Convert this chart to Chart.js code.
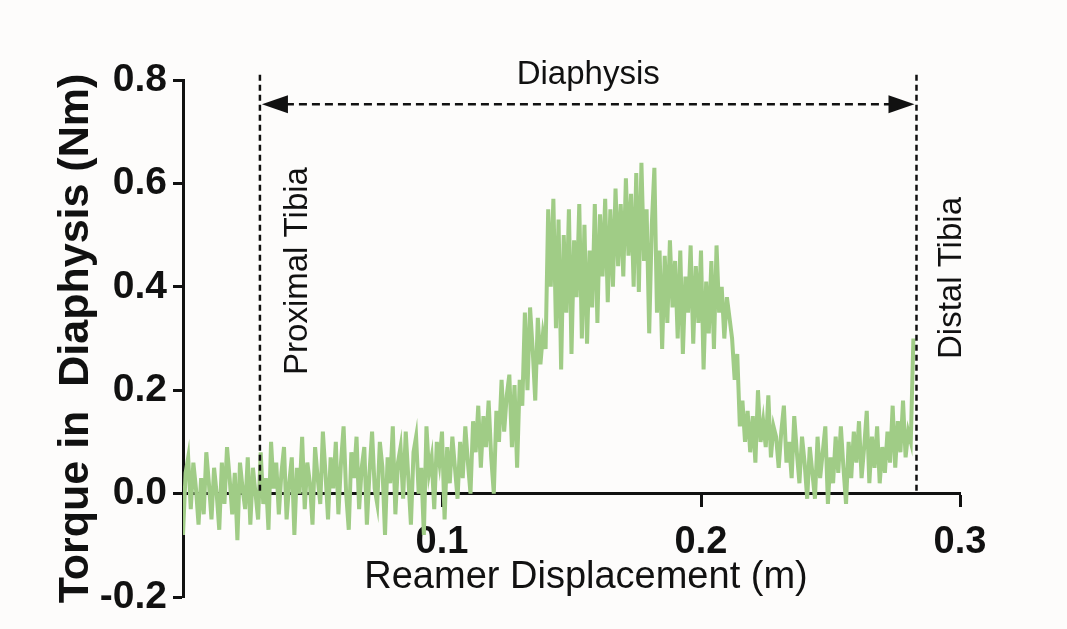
<!DOCTYPE html>
<html><head><meta charset="utf-8">
<script src="https://cdn.jsdelivr.net/npm/chart.js@4.4.1/dist/chart.umd.min.js"></script>
<style>html,body{margin:0;padding:0;background:#fdfcfb;} #wrap{width:1067px;height:629px;position:relative;}</style>
</head><body><div id="wrap"><canvas id="c"></canvas></div>
<script>
// Reamer displacement (m)
const displacement = [
0,0.001,0.002,0.003,0.004,0.005,0.006,0.007,0.008,0.009,
0.010,0.011,0.012,0.013,0.014,0.015,0.016,0.017,0.018,0.019,
0.020,0.021,0.022,0.023,0.024,0.025,0.026,0.027,0.028,0.029,
0.030,0.031,0.032,0.033,0.034,0.035,0.036,0.037,0.038,0.039,
0.040,0.041,0.042,0.043,0.044,0.045,0.046,0.047,0.048,0.049,
0.050,0.051,0.052,0.053,0.054,0.055,0.056,0.057,0.058,0.059,
0.060,0.061,0.062,0.063,0.064,0.065,0.066,0.067,0.068,0.069,
0.070,0.071,0.072,0.073,0.074,0.075,0.076,0.077,0.078,0.079,
0.080,0.081,0.082,0.083,0.084,0.085,0.086,0.087,0.088,0.089,
0.090,0.091,0.092,0.093,0.094,0.095,0.096,0.097,0.098,0.099,
0.100,0.101,0.102,0.103,0.104,0.105,0.106,0.107,0.108,0.109,
0.110,0.111,0.112,0.113,0.114,0.115,0.116,0.117,0.118,0.119,
0.120,0.121,0.122,0.123,0.124,0.125,0.126,0.127,0.128,0.129,
0.130,0.131,0.132,0.133,0.134,0.135,0.136,0.137,0.138,0.139,
0.140,0.141,0.142,0.143,0.144,0.145,0.146,0.147,0.148,0.149,
0.150,0.151,0.152,0.153,0.154,0.155,0.156,0.157,0.158,0.159,
0.160,0.161,0.162,0.163,0.164,0.165,0.166,0.167,0.168,0.169,
0.170,0.171,0.172,0.173,0.174,0.175,0.176,0.177,0.178,0.179,
0.180,0.181,0.182,0.183,0.184,0.185,0.186,0.187,0.188,0.189,
0.190,0.191,0.192,0.193,0.194,0.195,0.196,0.197,0.198,0.199,
0.200,0.201,0.202,0.203,0.204,0.205,0.206,0.207,0.208,0.209,
0.210,0.211,0.212,0.213,0.214,0.215,0.216,0.217,0.218,0.219,
0.220,0.221,0.222,0.223,0.224,0.225,0.226,0.227,0.228,0.229,
0.230,0.231,0.232,0.233,0.234,0.235,0.236,0.237,0.238,0.239,
0.240,0.241,0.242,0.243,0.244,0.245,0.246,0.247,0.248,0.249,
0.250,0.251,0.252,0.253,0.254,0.255,0.256,0.257,0.258,0.259,
0.260,0.261,0.262,0.263,0.264,0.265,0.266,0.267,0.268,0.269,
0.270,0.271,0.272,0.273,0.274,0.275,0.276,0.277,0.278,0.279,
0.280,0.281,0.282
];
// Torque in diaphysis (Nm)
const torque = [
-0.08,0.04,0.07,-0.03,0.06,0.01,-0.06,0.03,-0.04,0.08,
0.02,-0.05,0.05,0.00,-0.07,0.06,-0.02,0.09,0.03,-0.04,
0.04,-0.09,0.06,0.01,-0.03,0.07,-0.06,0.05,0.00,-0.05,
0.08,-0.02,0.03,-0.07,0.10,0.01,0.06,-0.04,0.04,0.09,
-0.05,0.02,0.07,-0.08,0.05,0.00,0.11,-0.03,0.06,0.02,
-0.06,0.09,0.03,-0.02,0.12,0.04,-0.05,0.07,0.01,0.10,
-0.04,0.06,0.13,0.00,-0.07,0.08,0.03,0.11,-0.03,0.05,
0.09,-0.06,0.04,0.12,0.01,-0.02,0.10,0.05,-0.08,0.07,
0.02,0.13,-0.04,0.06,0.09,-0.01,0.12,0.03,-0.06,0.08,
0.11,0.00,0.05,-0.08,0.13,0.04,0.07,-0.03,0.10,0.06,
0.12,-0.05,0.09,0.02,0.11,0.05,-0.01,0.10,0.03,0.13,
0.06,0.00,0.14,0.08,0.17,0.05,0.15,0.09,0.18,0.07,
0.00,0.16,0.10,0.22,0.12,0.19,0.23,0.09,0.21,0.05,
0.22,0.17,0.35,0.20,0.36,0.28,0.18,0.34,0.25,0.31,
0.28,0.55,0.40,0.57,0.32,0.53,0.24,0.50,0.35,0.55,
0.27,0.49,0.38,0.56,0.30,0.52,0.29,0.47,0.36,0.56,
0.33,0.54,0.42,0.57,0.37,0.55,0.40,0.59,0.44,0.56,
0.42,0.61,0.46,0.58,0.40,0.62,0.39,0.64,0.45,0.55,
0.31,0.52,0.63,0.35,0.47,0.28,0.46,0.33,0.49,0.36,
0.45,0.30,0.47,0.27,0.42,0.35,0.48,0.29,0.44,0.33,
0.47,0.24,0.41,0.31,0.45,0.28,0.48,0.35,0.40,0.30,
0.38,0.34,0.30,0.22,0.27,0.13,0.18,0.10,0.16,0.08,
0.15,0.06,0.20,0.10,0.14,0.09,0.19,0.07,0.13,0.11,
0.05,0.12,0.17,0.06,0.10,0.03,0.15,0.08,0.02,0.11,
0.06,-0.01,0.09,0.04,-0.01,0.11,0.03,0.08,0.13,-0.02,
0.07,0.02,0.11,0.04,0.13,0.05,-0.02,0.10,0.03,0.12,
0.06,0.14,0.03,0.09,0.16,0.02,0.11,0.05,0.13,0.02,
0.09,0.04,0.12,0.06,0.17,0.05,0.14,0.08,0.18,0.07,
0.12,0.10,0.30
];
const xTicks = [0, 0.1, 0.2, 0.3];
const yTicks = [-0.2, 0, 0.2, 0.4, 0.6, 0.8];
const boundaryX = [0.0297, 0.2832];          // proximal / distal tibia markers
const boundaryLabels = ['Proximal Tibia', 'Distal Tibia'];
const spanLabel = 'Diaphysis';
const markerTop = 0.81;
const arrowLevel = 0.753;
const xTitle = 'Reamer Displacement (m)';
const yTitle = 'Torque in  Diaphysis (Nm)';

const FONT = '"Liberation Sans", Arial, Helvetica, sans-serif';
Chart.defaults.font.family = FONT;
const INK = '#111111';

const annot = {
  id: 'annot',
  afterDatasetsDraw(chart) {
    const {ctx, scales: {x, y}} = chart;
    const xp = x.getPixelForValue(boundaryX[0]);
    const xd = x.getPixelForValue(boundaryX[1]);
    const yTop = y.getPixelForValue(markerTop);
    const y0 = y.getPixelForValue(0);
    const ya = y.getPixelForValue(arrowLevel);
    ctx.save();
    ctx.strokeStyle = INK; ctx.fillStyle = INK;
    ctx.lineWidth = 2.5; ctx.setLineDash([6, 4]);
    [xp, xd].forEach(px => { ctx.beginPath(); ctx.moveTo(px, yTop); ctx.lineTo(px, y0); ctx.stroke(); });
    const ah = 26, aw = 9;
    ctx.setLineDash([8, 5]);
    ctx.beginPath(); ctx.moveTo(xp + ah, ya); ctx.lineTo(xd - ah, ya); ctx.stroke();
    ctx.setLineDash([]);
    ctx.beginPath(); ctx.moveTo(xp + 2, ya); ctx.lineTo(xp + 2 + ah, ya - aw); ctx.lineTo(xp + 2 + ah, ya + aw); ctx.closePath(); ctx.fill();
    ctx.beginPath(); ctx.moveTo(xd - 2, ya); ctx.lineTo(xd - 2 - ah, ya - aw); ctx.lineTo(xd - 2 - ah, ya + aw); ctx.closePath(); ctx.fill();
    ctx.textAlign = 'center'; ctx.textBaseline = 'middle';
    ctx.font = '33px ' + FONT;
    ctx.fillText(spanLabel, (xp + xd) / 2, 75);
    ctx.save(); ctx.translate(xp + 38, 271); ctx.rotate(-Math.PI / 2); ctx.fillText(boundaryLabels[0], 0, 0); ctx.restore();
    ctx.save(); ctx.translate(xd + 35, 278); ctx.rotate(-Math.PI / 2); ctx.fillText(boundaryLabels[1], 0, 0); ctx.restore();
    ctx.font = '38px ' + FONT;
    ctx.fillText(xTitle, 586, 578);
    ctx.restore();
  }
};

new Chart(document.getElementById('c'), {
  type: 'line',
  data: { datasets: [{
    data: displacement.map((d, i) => ({x: d, y: torque[i]})),
    borderColor: '#a0cc86', borderWidth: 4, pointRadius: 0, tension: 0, fill: false
  }] },
  options: {
    responsive: true, maintainAspectRatio: false, animation: false,
    layout: {padding: {left: 0, right: 107, top: 80, bottom: 32}},
    plugins: {legend: {display: false}, tooltip: {enabled: false}},
    scales: {
      x: {
        type: 'linear', position: {y: 0}, min: 0, max: 0.3,
        afterBuildTicks: s => { s.ticks = xTicks.map(v => ({value: v})); },
        afterFit: s => { s.height = 0; },
        border: {display: true, color: INK, width: 3},
        grid: {display: true, drawOnChartArea: false, drawTicks: true, tickLength: 12, tickWidth: 3, tickColor: INK},
        ticks: {color: INK, font: {size: 38, weight: 'bold'}, padding: 14, maxRotation: 0, autoSkip: false,
                callback: v => v === 0 ? '' : v.toFixed(1)}
      },
      y: {
        type: 'linear', position: 'left', min: -0.2, max: 0.8,
        afterBuildTicks: s => { s.ticks = yTicks.map(v => ({value: v})); },
        afterFit: s => { s.width = 183; },
        border: {display: true, color: INK, width: 3},
        grid: {display: true, drawOnChartArea: false, drawTicks: true, tickLength: 10, tickWidth: 3, tickColor: INK},
        ticks: {color: INK, font: {size: 39, weight: 'bold'}, padding: 6, callback: v => v.toFixed(1)},
        title: {display: true, text: yTitle, color: INK, font: {size: 43, weight: 'bold'}, padding: {top: 50, bottom: 0}}
      }
    }
  },
  plugins: [annot]
});
</script></body></html>
